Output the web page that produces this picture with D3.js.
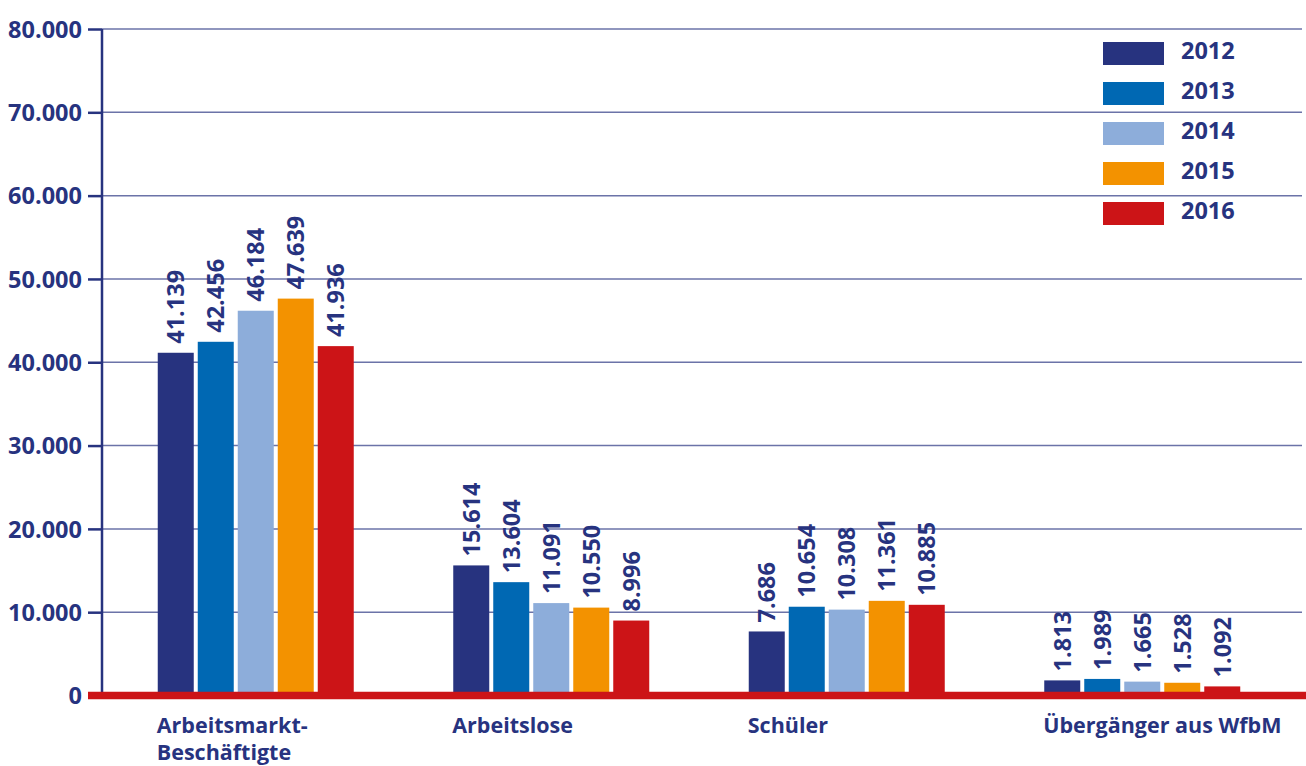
<!DOCTYPE html>
<html>
<head>
<meta charset="utf-8">
<script src="https://cdn.jsdelivr.net/npm/d3@7"></script>
<style>
  html, body { margin: 0; padding: 0; background: #fff; }
  svg { display: block; font-family: "Open Sans", "Noto Sans", sans-serif; font-weight: 700; }
</style>
</head>
<body>
<svg id="chart" width="1306" height="766"></svg>
<script>
// Groups, years and counts per group (one array per year)
const categories = [["Arbeitsmarkt-", "Beschäftigte"], ["Arbeitslose"], ["Schüler"], ["Übergänger aus WfbM"]];
const years = ["2012", "2013", "2014", "2015", "2016"];
const values2012 = [41139, 15614, 7686, 1813];
const values2013 = [42456, 13604, 10654, 1989];
const values2014 = [46184, 11091, 10308, 1665];
const values2015 = [47639, 10550, 11361, 1528];
const values2016 = [41936, 8996, 10885, 1092];
const yTicks = [0, 10000, 20000, 30000, 40000, 50000, 60000, 70000, 80000];
const colors = ["#27337f", "#0068b3", "#8dadda", "#f39200", "#cc1417"];

const series = [values2012, values2013, values2014, values2015, values2016];
const navy = "#27337f";
const numSize = 23.5;
const svg = d3.select("#chart");

const fmt = v => d3.format(",")(v).replace(/,/g, ".");

const y = d3.scaleLinear().domain([0, 80000]).range([695.5, 29]);
const xGroup = d3.scaleBand().domain(d3.range(categories.length)).range([108, 1290]);
const xYear = d3.scaleBand().domain(years).range([0, 196]).paddingInner(0.1);
const groupStart = i => xGroup(i) + xGroup.bandwidth() / 2 - 98;

// Horizontal grid lines
svg.append("g").selectAll("line").data(yTicks.filter(t => t > 0)).join("line")
  .attr("x1", 102).attr("x2", 1302)
  .attr("y1", d => y(d)).attr("y2", d => y(d))
  .attr("stroke", "#6b73a8").attr("stroke-width", 1.5);

// Y axis
const yAxis = d3.axisLeft(y).tickValues(yTicks).tickFormat(fmt).tickSize(14).tickPadding(6);
const ag = svg.append("g").attr("transform", "translate(102,0)").call(yAxis);
ag.select(".domain").attr("stroke", navy).attr("stroke-width", 2.5).attr("d", `M0,${y(80000)}V${y(0)}`);
ag.selectAll(".tick line").attr("stroke", navy).attr("stroke-width", 2.5);
ag.selectAll(".tick text").attr("fill", navy).attr("font-size", numSize).attr("font-weight", 700)
  .attr("font-family", "'Open Sans', sans-serif").attr("dy", "0.35em");

// Bars
const bars = [];
series.forEach((vals, s) => vals.forEach((v, i) => bars.push({ s, i, v })));
svg.append("g").selectAll("rect").data(bars).join("rect")
  .attr("x", d => groupStart(d.i) + xYear(years[d.s]))
  .attr("width", xYear.bandwidth())
  .attr("y", d => y(d.v))
  .attr("height", d => y(0) - y(d.v))
  .attr("fill", d => colors[d.s]);

// Value labels (rotated)
svg.append("g").selectAll("text").data(bars).join("text")
  .attr("transform", d => `translate(${groupStart(d.i) + xYear(years[d.s]) + xYear.bandwidth() / 2},${y(d.v) - 9}) rotate(-90)`)
  .attr("dy", "0.36em")
  .attr("fill", navy).attr("font-size", numSize)
  .text(d => fmt(d.v));

// Red baseline
svg.append("line")
  .attr("x1", 88).attr("x2", 1306)
  .attr("y1", y(0)).attr("y2", y(0))
  .attr("stroke", "#cc1417").attr("stroke-width", 7.5);

// Category labels
const cl = svg.append("g").selectAll("text").data(categories).join("text")
  .attr("x", (d, i) => groupStart(i) - 1)
  .attr("y", 733)
  .attr("fill", navy).attr("font-size", 21.5);
cl.selectAll("tspan").data(d => d).join("tspan")
  .attr("x", function () { return d3.select(this.parentNode).attr("x"); })
  .attr("dy", (d, j) => j === 0 ? 0 : 27)
  .text(d => d);

// Legend
const lg = svg.append("g").selectAll("g").data(years).join("g")
  .attr("transform", (d, i) => `translate(1103,${42 + i * 40})`);
lg.append("rect").attr("width", 61).attr("height", 23).attr("fill", (d, i) => colors[i]);
lg.append("text").attr("x", 78).attr("y", 9).attr("dy", "0.36em")
  .attr("fill", navy).attr("font-size", numSize).text(d => d);
</script>
</body>
</html>
